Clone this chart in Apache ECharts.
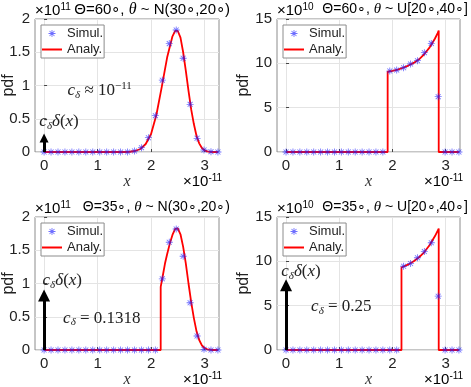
<!DOCTYPE html>
<html>
<head>
<meta charset="utf-8">
<script src="https://cdn.jsdelivr.net/npm/echarts@6/dist/echarts.min.js"></script>
<style>
  html, body { margin: 0; padding: 0; background: #fff; }
  #main { width: 471px; height: 387px; }
</style>
</head>
<body>
<div id="main"></div>
<script>
// x in units of 1e-11, bin centres of the simulated histogram
const simX = [0, 0.13, 0.26, 0.39, 0.52, 0.65, 0.78, 0.91, 1.04, 1.17, 1.3, 1.43, 1.56,
              1.69, 1.82, 1.95, 2.08, 2.21, 2.34, 2.47, 2.6, 2.73, 2.86, 2.99, 3.12, 3.25];

// simulated pdf values (top-left, top-right, bottom-left, bottom-right)
const simTL = [0, 0, 0, 0, 0, 0, 0, 0, 0, 0, 0, 0, 0, 0.015, 0.065, 0.215, 0.546, 1.08, 1.63, 1.835, 1.41, 0.717, 0.206, 0.03, 0.005, 0];
const simTR = [0, 0, 0, 0, 0, 0, 0, 0, 0, 0, 0, 0, 0, 0, 0, 9.13, 9.24, 9.5, 9.92, 10.3, 11.2, 12.25, 6.24, 0, 0, 0];
const simBL = [0, 0, 0, 0, 0, 0, 0, 0, 0, 0, 0, 0, 0, 0, 0, 0, 0, 1.07, 1.62, 1.82, 1.41, 0.71, 0.21, 0.01, 0, 0];
const simBR = [0, 0, 0, 0, 0, 0, 0, 0, 0, 0, 0, 0, 0, 0, 0, 0, 0, 9.45, 9.75, 10.4, 11.1, 12.1, 6.07, 0, 0, 0];

// analytical pdf curves [x, pdf]
const anTL = [[0, 0], [1.5, 0], [1.6, 0.004], [1.7, 0.015], [1.8, 0.045], [1.9, 0.12], [2.0, 0.27],
              [2.1, 0.56], [2.2, 0.98], [2.3, 1.42], [2.4, 1.74], [2.45, 1.82], [2.5, 1.82], [2.55, 1.72],
              [2.6, 1.5], [2.65, 1.22], [2.7, 0.92], [2.75, 0.64], [2.8, 0.42], [2.85, 0.24], [2.9, 0.13],
              [2.95, 0.06], [3.0, 0.025], [3.05, 0.01], [3.1, 0.003], [3.2, 0], [3.25, 0]];
const anTR = [[0, 0], [1.91, 0], [1.91, 9.05], [2.0, 9.15], [2.1, 9.3], [2.2, 9.5], [2.3, 9.75], [2.4, 10.05],
              [2.5, 10.45], [2.6, 11.05], [2.7, 11.8], [2.75, 12.3], [2.8, 12.8], [2.85, 13.4], [2.87, 13.7],
              [2.87, 0], [3.25, 0]];
const anBL = [[0, 0], [2.18, 0], [2.18, 0.95], [2.22, 1.12], [2.26, 1.3], [2.3, 1.44], [2.35, 1.6], [2.4, 1.73],
              [2.45, 1.82], [2.5, 1.83], [2.55, 1.74], [2.6, 1.55], [2.65, 1.3], [2.7, 1.0], [2.75, 0.72],
              [2.8, 0.48], [2.85, 0.28], [2.9, 0.15], [2.95, 0.07], [3.0, 0.03], [3.05, 0.01], [3.15, 0], [3.25, 0]];
const anBR = [[0, 0], [2.17, 0], [2.17, 9.3], [2.2, 9.4], [2.3, 9.65], [2.4, 10.0], [2.5, 10.45], [2.6, 11.05],
              [2.7, 11.85], [2.8, 12.85], [2.87, 13.7], [2.87, 0], [3.25, 0]];

const xTicks = [0, 1, 2, 3];
const titles = ['{n|Θ=60∘, }{t|θ}{n| ~ N(30∘,20∘)}', '{n|Θ=60∘, }{t|θ}{n| ~ U[20∘,40∘]}',
                '{n|Θ=35∘, }{t|θ}{n| ~ N(30∘,20∘)}', '{n|Θ=35∘, }{t|θ}{n| ~ U[20∘,40∘]}'];
const yExp = ['11', '10', '11', '10'];

const SANS = 'Liberation Sans, Arial, sans-serif';
const SERIF = 'Liberation Serif, DejaVu Serif, serif';
const BLUE = 'rgba(30,30,255,0.8)';
// asterisk marker like matlab '*'
const STAR = 'path://M-10,-1.2L10,-1.2L10,1.2L-10,1.2Z M-1.2,-10L1.2,-10L1.2,10L-1.2,10Z ' +
             'M-6.22,-7.92L7.92,6.22L6.22,7.92L-7.92,-6.22Z M-7.92,6.22L6.22,-7.92L7.92,-6.22L-6.22,7.92Z';
const DASH = 'path://M0,0L40,0L40,4L0,4Z';

const mathRich = {
  i: { fontFamily: SERIF, fontStyle: 'italic', fontSize: 17, color: '#222', lineHeight: 20 },
  s: { fontFamily: SERIF, fontStyle: 'italic', fontSize: 11, color: '#222', lineHeight: 11, verticalAlign: 'bottom' },
  n: { fontFamily: SERIF, fontSize: 17, color: '#222', lineHeight: 20 },
  p: { fontFamily: SERIF, fontSize: 11, color: '#222', lineHeight: 11, verticalAlign: 'top' }
};
const DELTA = '{i|c}{s|δ}{i|δ}{n|(}{i|x}{n|)}';

// layout of the four panels
const panels = [
  { left: 35, top: 19, width: 184, ymax: 2, yint: 0.5, sim: simTL, an: anTL, arrow: 0.21, head: 9, titleRight: 241,
    nameGap: 18, titleSize: 15,
    notes: [{ at: [0.28, 0.455], text: DELTA }, { at: [1.04, 0.92], text: '{i|c}{s|δ}{n| ≈ 10}{p|−11}' }] },
  { left: 277, top: 19, width: 183, ymax: 15, yint: 5, sim: simTR, an: anTR, arrow: null, titleRight: 3,
    nameGap: 25, titleSize: 14, notes: [] },
  { left: 35, top: 217, width: 184, ymax: 2, yint: 0.5, sim: simBL, an: anBL, arrow: 0.82, head: 12, titleRight: 241,
    nameGap: 18, titleSize: 14,
    notes: [{ at: [0.34, 1.05], text: DELTA }, { at: [1.08, 0.48], text: '{i|c}{s|δ}{n| = 0.1318}' }] },
  { left: 277, top: 217, width: 183, ymax: 15, yint: 5, sim: simBR, an: anBR, arrow: 7.3, head: 12, titleRight: 3,
    nameGap: 25, titleSize: 14,
    notes: [{ at: [0.28, 8.8], text: DELTA }, { at: [1.04, 4.95], text: '{i|c}{s|δ}{n| = 0.25}' }] }
];
const H = 133;

const option = { animation: false, backgroundColor: '#fff', grid: [], xAxis: [], yAxis: [], series: [], legend: [], graphic: [] };

panels.forEach(function (p, i) {
  option.grid.push({ left: p.left, top: p.top, width: p.width, height: H, show: true, outerBoundsMode: 'none',
                     borderColor: '#8c8c8c', borderWidth: 1, backgroundColor: 'transparent' });
  option.xAxis.push({
    gridIndex: i, type: 'value', min: -0.17, max: 3.27,
    axisLine: { show: false },
    axisTick: { show: true, inside: true, length: 3, customValues: xTicks, lineStyle: { color: '#444' } },
    axisLabel: { customValues: xTicks, fontSize: 15, color: '#222', margin: 6, fontFamily: SANS },
    splitLine: { show: true, lineStyle: { color: '#e4e4e4' } },
    name: 'x', nameLocation: 'middle', nameGap: 22, nameMoveOverlap: false,
    nameTextStyle: { fontFamily: SERIF, fontStyle: 'italic', fontSize: 16, color: '#333' }
  });
  option.yAxis.push({
    gridIndex: i, type: 'value', min: 0, max: p.ymax, interval: p.yint,
    axisLine: { show: false },
    axisTick: { show: true, inside: true, length: 3, lineStyle: { color: '#444' } },
    axisLabel: { fontSize: 15, color: '#222', margin: 5, fontFamily: SANS },
    splitLine: { show: true, lineStyle: { color: '#e4e4e4' } },
    name: 'pdf', nameLocation: 'middle', nameGap: p.nameGap, nameRotate: 90, nameMoveOverlap: false,
    nameTextStyle: { fontFamily: SANS, fontSize: 16, color: '#222' }
  });

  const line = {
    type: 'line', name: 'Analy.', xAxisIndex: i, yAxisIndex: i, data: p.an,
    symbol: 'none', showSymbol: false, z: 2,
    lineStyle: { color: '#ff0000', width: 1.8 }, itemStyle: { color: '#ff0000' },
    markPoint: {
      silent: true, symbol: 'circle', symbolSize: 1, itemStyle: { color: 'transparent' },
      label: { show: true, position: 'inside', rich: mathRich },
      data: p.notes.map(function (n) { return { coord: n.at, label: { formatter: n.text } }; })
    }
  };
  if (p.arrow !== null) {
    line.markLine = {
      silent: true, symbol: ['none', 'triangle'], symbolSize: p.head,
      label: { show: false },
      lineStyle: { color: '#000', width: 3, type: 'solid' },
      itemStyle: { color: '#000' },
      data: [[{ coord: [0, 0] }, { coord: [0, p.arrow] }]]
    };
  }
  option.series.push(line);
  option.series.push({
    type: 'scatter', name: 'Simul.', xAxisIndex: i, yAxisIndex: i, z: 3, clip: false,
    data: simX.map(function (x, k) { return [x, p.sim[k]]; }),
    symbol: STAR, symbolSize: 7, itemStyle: { color: BLUE }
  });

  option.legend.push({
    left: p.left + 6, top: p.top + 6, orient: 'vertical',
    backgroundColor: '#fff', borderColor: '#8c8c8c', borderWidth: 1, borderRadius: 0,
    padding: [2, 1, 2, 1], itemGap: 3, itemWidth: 20, itemHeight: 7,
    textStyle: { fontSize: 13, color: '#222', fontFamily: SANS },
    data: [{ name: 'Simul.', icon: STAR, itemStyle: { color: BLUE } },
           { name: 'Analy.', icon: DASH, itemStyle: { color: '#ff0000' } }],
    selectedMode: false
  });

  const supRich = {
    b: { fontFamily: SANS, fontSize: 15, color: '#333', lineHeight: 18 },
    u: { fontFamily: SANS, fontSize: 10, color: '#333', lineHeight: 10, verticalAlign: 'top' }
  };
  option.graphic.push({ type: 'text', left: p.left, top: p.top - 17,
                        style: { text: '{b|×10}{u|' + yExp[i] + '}', rich: supRich } });
  option.graphic.push({ type: 'text', right: p.titleRight, top: p.top - 17,
                        style: { text: titles[i], rich: {
                          n: { fontFamily: SANS, fontSize: p.titleSize, color: '#111', lineHeight: 18 },
                          t: { fontFamily: SERIF, fontStyle: 'italic', fontSize: p.titleSize + 1, color: '#111', lineHeight: 18 } } } });
  option.graphic.push({ type: 'text', left: p.left + p.width - 36, top: p.top + H + 21,
                        style: { text: '{b|×10}{u|-11}', rich: supRich } });
});

const chart = echarts.init(document.getElementById('main'));
chart.setOption(option);
</script>
</body>
</html>
